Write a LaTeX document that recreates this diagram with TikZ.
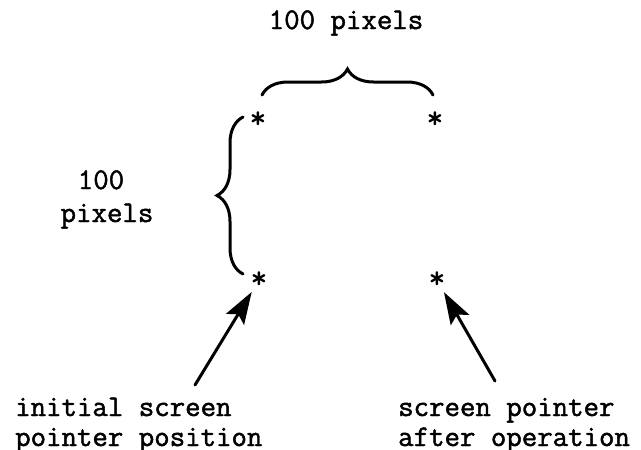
\documentclass[tikz,border=0pt]{standalone}
\usepackage{fontspec}
\newfontfamily\typer{Latin Modern Mono}[FakeBold=1.6]
\usetikzlibrary{arrows.meta,decorations.pathreplacing}
\begin{document}
\begin{tikzpicture}[x=1pt,y=-1pt,
  lbl/.style={font=\fontsize{30}{30}\selectfont\typer, inner sep=0pt},
  mark star/.style={font=\fontsize{32}{32}\selectfont\ttfamily\bfseries, inner sep=0pt, anchor=center},
  stroke/.style={line width=3pt, line cap=round},
  bracestyle/.style={stroke, decorate, decoration={brace, amplitude=26pt}},
  pointer/.style={stroke, -{Stealth[length=32pt,width=21pt,inset=6pt]}}]
\useasboundingbox (0,0) rectangle (641,450);

% the four pointer positions
\node[mark star] (tl) at (258,120) {*};
\node[mark star] (tr) at (435,120) {*};
\node[mark star] (bl) at (259,280) {*};
\node[mark star] (br) at (437,280) {*};

% distance labels
\node[lbl, anchor=base] (toplbl) at (346,29) {100 pixels};
\node[lbl, anchor=base] (lefthundred) at (101,189) {100};
\node[lbl, anchor=base] (leftpixels) at (107,222) {pixels};

% braces
\coordinate (tb1) at (262,95);
\coordinate (tb2) at (433,95);
\draw[bracestyle] (tb1) -- (tb2);
\coordinate (lb1) at (243,274);
\coordinate (lb2) at (243,117);
\draw[bracestyle] (lb1) -- (lb2);

% captions
\node[lbl, anchor=base west] (cap1a) at (15,416) {initial screen};
\node[lbl, anchor=base west] (cap1b) at (15,446) {pointer position};
\node[lbl, anchor=base west] (cap2a) at (398,416) {screen pointer};
\node[lbl, anchor=base west] (cap2b) at (398,446) {after operation};

% arrows from captions to the pointer positions
\coordinate (t1) at (195,385);
\coordinate (t2) at (495,381);
\draw[pointer, shorten >=14pt] (t1) -- (bl.center);
\draw[pointer, shorten >=14pt] (t2) -- (br.center);
\end{tikzpicture}
\end{document}
